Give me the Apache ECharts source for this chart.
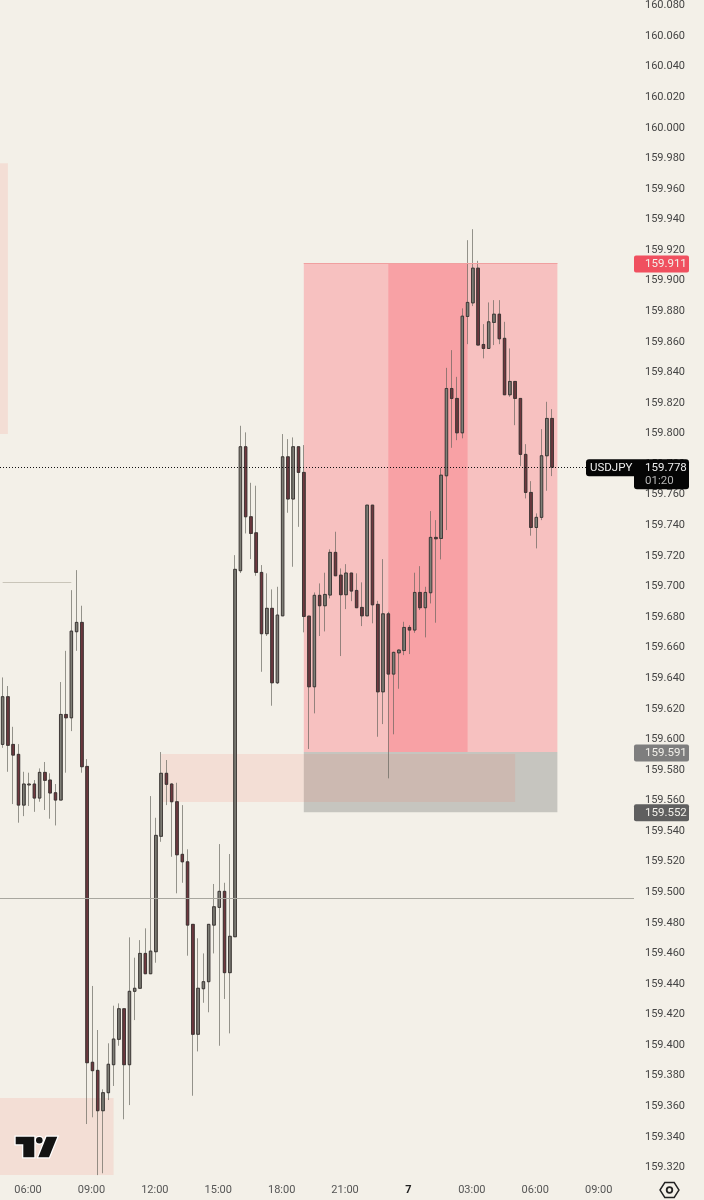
<!DOCTYPE html>
<html>
<head>
<meta charset="utf-8">
<title>USDJPY</title>
<script src="https://cdn.jsdelivr.net/npm/echarts@6/dist/echarts.min.js"></script>
<style>
  html, body { margin: 0; padding: 0; background: #f3f0e8; }
  #main { width: 704px; height: 1200px; }
</style>
</head>
<body>
<div id="main"></div>
<script>
// 15 minute bars, the axis runs on past the last candle
const categories = [
  '04:45','05:00','05:15','05:30','05:45','06:00','06:15','06:30','06:45','07:00','07:15','07:30',
  '07:45','08:00','08:15','08:30','08:45','09:00','09:15','09:30','09:45','10:00','10:15','10:30',
  '10:45','11:00','11:15','11:30','11:45','12:00','12:15','12:30','12:45','13:00','13:15','13:30',
  '13:45','14:00','14:15','14:30','14:45','15:00','15:15','15:30','15:45','16:00','16:15','16:30',
  '16:45','17:00','17:15','17:30','17:45','18:00','18:15','18:30','18:45','19:00','19:15','19:30',
  '19:45','20:00','20:15','20:30','20:45','21:00','21:15','21:30','21:45','22:00','22:15','22:30',
  '22:45','23:00','23:15','23:30','23:45','7','00:15','00:30','00:45','01:00','01:15','01:30',
  '01:45','02:00','02:15','02:30','02:45','03:00','03:15','03:30','03:45','04:00','04:15','04:30',
  '04:45','05:00','05:15','05:30','05:45','06:00','06:15','06:30','06:45','07:00','07:15','07:30',
  '07:45','08:00','08:15','08:30','08:45','09:00','09:15','09:30','09:45','10:00','10:15','10:30'
];
const timeLabels = ['06:00','09:00','12:00','15:00','18:00','21:00','7','03:00'];
const priceTicks = [
  160.08,160.06,160.04,160.02,160.00,159.98,159.96,159.94,159.92,159.90,
  159.88,159.86,159.84,159.82,159.80,159.78,159.76,159.74,159.72,159.70,
  159.68,159.66,159.64,159.62,159.60,159.58,159.56,159.54,159.52,159.50,
  159.48,159.46,159.44,159.42,159.40,159.38,159.36,159.34,159.32
];

const opens = [
  159.5967,159.6279,159.5967,159.5902,159.5570,159.5703,159.5708,159.5616,159.5784,159.5734,159.5651,159.5603,
  159.6163,159.6141,159.6704,159.6765,159.5823,159.3888,159.3835,159.3571,159.3689,159.3872,159.4038,159.4238,
  159.3872,159.4352,159.4372,159.4600,159.4467,159.4611,159.5366,159.5778,159.5708,159.5592,159.5248,159.5199,
  159.4790,159.4071,159.4369,159.4415,159.4785,159.4901,159.5006,159.4474,159.4709,159.7103,159.7914,159.7456,
  159.7351,159.7092,159.6691,159.6857,159.6370,159.6808,159.7848,159.7572,159.7914,159.7746,159.6806,159.6344,
  159.6942,159.6874,159.6944,159.7223,159.7074,159.6946,159.7088,159.6974,159.6863,159.6808,159.7532,159.6883,
  159.6311,159.6821,159.6427,159.6566,159.6581,159.6732,159.6715,159.6961,159.6861,159.6959,159.7321,159.7314,
  159.7724,159.8295,159.8230,159.8005,159.8766,159.8855,159.9082,159.8583,159.8557,159.8727,159.8781,159.8623,
  159.8254,159.8341,159.8230,159.7864,159.7615,159.7386,159.7452,159.7855,159.8099
];
const closes = [
  159.6279,159.5961,159.5897,159.5570,159.5708,159.5708,159.5616,159.5784,159.5732,159.5649,159.5603,159.6163,
  159.6141,159.6708,159.6765,159.5821,159.3885,159.3833,159.3571,159.3689,159.3875,159.4040,159.4238,159.3872,
  159.4352,159.4372,159.4600,159.4467,159.4615,159.5372,159.5778,159.5706,159.5592,159.5245,159.5199,159.4785,
  159.4071,159.4372,159.4415,159.4790,159.4905,159.5006,159.4474,159.4712,159.7112,159.7914,159.7456,159.7347,
  159.7092,159.6691,159.6857,159.6370,159.6813,159.7848,159.7572,159.7914,159.7746,159.6804,159.6344,159.6942,
  159.6874,159.6948,159.7223,159.7070,159.6946,159.7088,159.6970,159.6861,159.6808,159.7532,159.6880,159.6311,
  159.6821,159.6427,159.6569,159.6584,159.6732,159.6715,159.6961,159.6861,159.6961,159.7321,159.7312,159.7728,
  159.8295,159.8230,159.8005,159.8768,159.8858,159.9082,159.8579,159.8557,159.8731,159.8781,159.8620,159.8254,
  159.8341,159.8230,159.7864,159.7615,159.7386,159.7452,159.7855,159.8099,159.7780
];
const lows = [
  159.5945,159.5788,159.5577,159.5455,159.5498,159.5564,159.5526,159.5592,159.5538,159.5481,159.5437,159.5603,
  159.5782,159.6054,159.6579,159.5782,159.3484,159.3528,159.3150,159.3162,159.3641,159.3733,159.3996,159.3515,
  159.3608,159.4164,159.4372,159.4467,159.4467,159.4539,159.5330,159.5570,159.5232,159.4993,159.5062,159.4585,
  159.3669,159.3959,159.4277,159.4215,159.4600,159.3996,159.4302,159.4077,159.4709,159.7088,159.7347,159.7179,
  159.7070,159.6442,159.6676,159.6220,159.6362,159.6808,159.7482,159.7129,159.7390,159.6700,159.5937,159.6170,
  159.6676,159.6706,159.6922,159.7070,159.6545,159.6852,159.6904,159.6861,159.6741,159.6808,159.6759,159.6017,
  159.6100,159.5745,159.6033,159.6331,159.6551,159.6558,159.6697,159.6846,159.6667,159.6889,159.6763,159.7177,
  159.7369,159.7907,159.7957,159.7969,159.8585,159.8834,159.8579,159.8492,159.8557,159.8579,159.8585,159.8254,
  159.8241,159.8055,159.7787,159.7576,159.7332,159.7249,159.7434,159.7626,159.7722
];
const highs = [
  159.6405,159.6349,159.6082,159.5969,159.5788,159.5782,159.5734,159.5810,159.5852,159.5778,159.5708,159.6375,
  159.6579,159.6976,159.7107,159.6874,159.5871,159.4387,159.4099,159.3711,159.4012,159.4258,159.4273,159.4238,
  159.4705,159.4572,159.4687,159.4764,159.5629,159.5487,159.5917,159.5865,159.5712,159.5716,159.5570,159.5281,
  159.4790,159.4699,159.4600,159.4790,159.5054,159.5315,159.5062,159.5250,159.7205,159.8051,159.8008,159.7678,
  159.7659,159.7140,159.7086,159.6981,159.6998,159.7997,159.7964,159.7975,159.7914,159.7925,159.6808,159.6961,
  159.7020,159.7090,159.7243,159.7358,159.7118,159.7146,159.7088,159.7086,159.7027,159.7532,159.7532,159.6906,
  159.7179,159.6834,159.6573,159.6589,159.6769,159.6747,159.7090,159.7133,159.6998,159.7493,159.7434,159.7774,
  159.8430,159.8546,159.8371,159.8819,159.9265,159.9337,159.9130,159.8716,159.8858,159.8873,159.8873,159.8731,
  159.8557,159.8341,159.8230,159.7931,159.7689,159.7478,159.8029,159.8208,159.8160
];

// zones: first bar, last bar, upper price, lower price
const targetBox = [57, 105, 159.9115, 159.5917];
const activeBox = [73, 88, 159.9115, 159.5917];
const stopBox = [57, 105, 159.5917, 159.5524];
const paleZones = [
  [-Infinity, 1, 159.9769, 159.7997],
  [30, 97, 159.5904, 159.5590],
  [-Infinity, 21, 159.3654, 159.3150]
];
const lastPrice = 159.778;
const flatLine = 159.4962;
const shortLine = [0, 13, 159.7029];
const priceTags = [
  { value: 159.911, color: '#f0505f' },
  { value: 159.591, color: '#7e7e7e' },
  { value: 159.552, color: '#5f5f5f' }
];

function zone(z, color) {
  return [
    { xAxis: z[0], yAxis: z[2], itemStyle: { color: color } },
    { xAxis: z[1], yAxis: z[3] }
  ];
}

const chart = echarts.init(document.getElementById('main'), null, { renderer: 'canvas' });

const option = {
  animation: false,
  backgroundColor: '#f3f0e8',
  grid: { left: -0.5, top: 0, width: 634.5, height: 1178 },
  xAxis: {
    type: 'category',
    data: categories,
    boundaryGap: true,
    axisLine: { show: false },
    axisTick: { show: false },
    splitLine: { show: false },
    axisLabel: {
      interval: (index, value) => timeLabels.includes(value),
      margin: 7,
      padding: [0, 2, 0, 0],
      fontFamily: 'Roboto',
      fontSize: 11,
      color: '#555555',
      formatter: v => (v === '7' ? '{b|7}' : v),
      rich: { b: { fontFamily: 'Roboto', fontSize: 11, fontWeight: 'bold', color: '#222222' } }
    }
  },
  yAxis: {
    type: 'value',
    position: 'right',
    min: 159.3131,
    max: 160.0835,
    scale: true,
    axisLine: { show: false },
    axisTick: { show: false },
    splitLine: { show: false },
    axisLabel: {
      customValues: priceTicks,
      margin: 11,
      fontFamily: 'Roboto',
      fontSize: 11,
      color: '#444444',
      formatter: v => v.toFixed(3)
    }
  },
  series: [
    {
      // zones and lines only, sits under the candles
      type: 'line',
      data: [],
      z: 1,
      silent: true,
      markArea: {
        silent: true,
        data: [
          zone(targetBox, '#f7c1c0'),
          zone(activeBox, '#f8a1a5'),
          zone(stopBox, '#c6c5bf'),
          ...paleZones.map(z => zone(z, 'rgba(245,100,80,0.12)'))
        ]
      },
      markLine: {
        silent: true,
        symbol: 'none',
        precision: 4,
        label: { show: false },
        data: [
          { yAxis: flatLine, lineStyle: { color: '#a8a79f', width: 1, type: 'solid' } },
          [
            { xAxis: shortLine[0], yAxis: shortLine[2], lineStyle: { color: '#c9c5b9', width: 1, type: 'solid' } },
            { xAxis: shortLine[1], yAxis: shortLine[2] }
          ],
          [
            { xAxis: targetBox[0], yAxis: targetBox[2], lineStyle: { color: '#f0a0a0', width: 1, type: 'solid' } },
            { xAxis: targetBox[1], yAxis: targetBox[2] }
          ]
        ]
      }
    },
    {
      type: 'candlestick',
      z: 3,
      barWidth: 3,
      data: opens.map((o, i) => [o, closes[i], lows[i], highs[i]]),
      itemStyle: {
        color: '#7b7b73',
        color0: '#6d3a40',
        borderColor: 'rgba(95,95,88,0.65)',
        borderColor0: 'rgba(95,95,88,0.65)',
        borderWidth: 1
      }
    },
    {
      // dark outline of the bodies, the candlestick series has one colour for wick and border
      type: 'custom',
      z: 4,
      silent: true,
      data: opens.map((o, i) => [i, o, closes[i]]),
      encode: { x: 0, y: [1, 2] },
      renderItem: (params, api) => {
        const o = api.value(1);
        const c = api.value(2);
        const a = api.coord([api.value(0), o]);
        const b = api.coord([api.value(0), c]);
        const top = Math.min(a[1], b[1]);
        return {
          type: 'rect',
          shape: { x: a[0] - 1.3, y: top, width: 2.6, height: Math.max(Math.abs(a[1] - b[1]), 1) },
          style: { fill: c >= o ? '#7f7f77' : '#70383f', stroke: '#3a3433', lineWidth: 0.9 }
        };
      }
    },
    {
      // last price line goes above the candles
      type: 'line',
      data: [],
      z: 5,
      silent: true,
      markLine: {
        silent: true,
        symbol: 'none',
        precision: 4,
        label: { show: false },
        lineStyle: { color: '#111111', width: 1, type: [1, 2] },
        data: [{ yAxis: lastPrice }]
      }
    }
  ]
};
chart.setOption(option);

// price tags and logo sit outside the plot area
const yOf = v => chart.convertToPixel({ yAxisIndex: 0 }, v);
const tagFont = '11.5px Roboto';
const lastY = yOf(lastPrice);
const graphics = [];
priceTags.forEach(t => {
  const y = yOf(t.value);
  graphics.push({
    type: 'rect', z: 100,
    shape: { x: 634, y: y - 8.5, width: 55, height: 17, r: 2 },
    style: { fill: t.color }
  });
  graphics.push({
    type: 'text', z: 101, x: 645, y: y,
    style: { text: t.value.toFixed(3), fill: '#f2f0ea', font: tagFont, textVerticalAlign: 'middle' }
  });
});
graphics.push(
  { type: 'rect', z: 100, shape: { x: 586, y: lastY - 8, width: 48, height: 17, r: [3, 0, 0, 3] }, style: { fill: '#050505' } },
  { type: 'rect', z: 100, shape: { x: 634, y: lastY - 8, width: 55, height: 30, r: [0, 3, 3, 3] }, style: { fill: '#050505' } },
  { type: 'text', z: 101, x: 590, y: lastY + 0.5, style: { text: 'USDJPY', fill: '#eeeeee', font: tagFont, textVerticalAlign: 'middle' } },
  { type: 'text', z: 101, x: 645, y: lastY + 0.5, style: { text: lastPrice.toFixed(3), fill: '#eeeeee', font: tagFont, textVerticalAlign: 'middle' } },
  { type: 'text', z: 101, x: 645, y: lastY + 13.5, style: { text: '01:20', fill: '#b5b5b5', font: tagFont, textVerticalAlign: 'middle' } }
);
// TradingView mark
const logoStyle = { fill: '#131313', stroke: '#ffffff', lineWidth: 2.5, strokeFirst: true };
graphics.push(
  { type: 'polygon', z: 100, shape: { points: [[15.7, 1136.7], [34.3, 1136.7], [34.3, 1157.3], [23.3, 1157.3], [23.3, 1144.3], [15.7, 1144.3]] }, style: logoStyle },
  { type: 'circle', z: 100, shape: { cx: 39.3, cy: 1140.3, r: 3.3 }, style: logoStyle },
  { type: 'polygon', z: 100, shape: { points: [[46.5, 1136.7], [57.3, 1136.7], [49, 1157.3], [38.3, 1157.3]] }, style: logoStyle }
);
// settings icon under the price axis
graphics.push(
  { type: 'polygon', z: 100, shape: { points: [[660, 1190], [664.8, 1182.5], [674.2, 1182.5], [679, 1190], [674.2, 1197.5], [664.8, 1197.5]] }, style: { fill: 'none', stroke: '#222222', lineWidth: 1.4 } },
  { type: 'circle', z: 100, shape: { cx: 669.5, cy: 1190, r: 2.8 }, style: { fill: 'none', stroke: '#222222', lineWidth: 1.8 } }
);
chart.setOption({ graphic: graphics });
</script>
</body>
</html>
